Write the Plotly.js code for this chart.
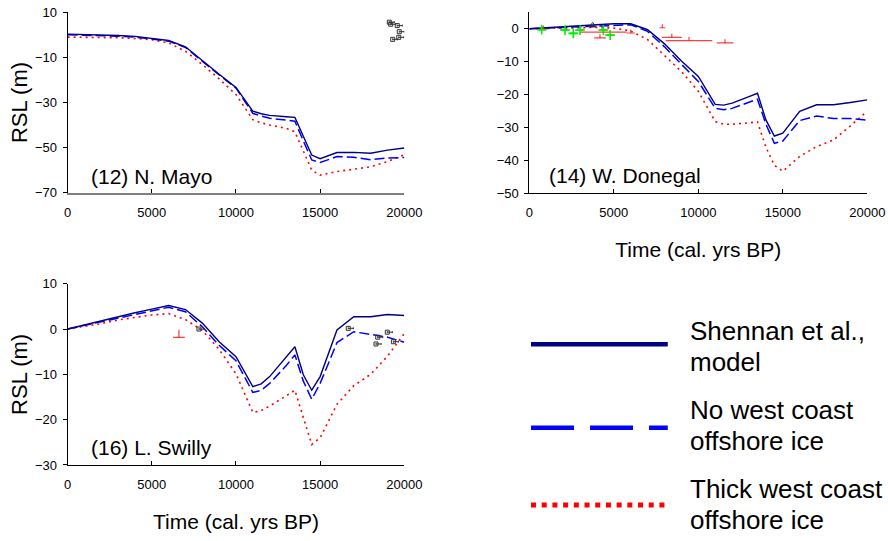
<!DOCTYPE html>
<html><head><meta charset="utf-8">
<script src="https://cdn.plot.ly/plotly-3.0.1.min.js"></script>
<style>html,body{margin:0;padding:0;background:#fff}#chart{width:888px;height:541px}</style>
</head><body><div id="chart"></div>
<script>
// Time nodes (cal. yrs BP)
const T = [0,1000,2000,3000,4000,5000,6000,7000,8000,9000,10000,11000,11500,12000,13000,13500,14000,14500,15000,16000,17000,18000,19000,20000];

// (12) N. Mayo
const mayoModel = [0.3,0.2,0,-0.3,-0.7,-1.5,-2.5,-5.3,-11.5,-17.5,-23.3,-33.8,-35,-35.7,-36.3,-36.6,-45,-53.3,-54.9,-52.2,-52.1,-52.5,-51.1,-50.2];
const mayoNoIce = [0,-0.1,-0.3,-0.6,-1.0,-1.8,-2.8,-5.6,-11.8,-17.8,-23.6,-34.8,-36,-37,-37.8,-38.3,-47,-55.5,-56.6,-54,-54.3,-55.4,-54.6,-54.4];
const mayoThick = [-1,-1,-1.1,-1.3,-1.6,-2.2,-3.6,-7.3,-13.2,-19.5,-26.5,-37.6,-39,-40,-41.5,-43,-51.5,-60,-62.2,-60.6,-59.6,-58.5,-56.2,-53.2];
const mayoObsX = [19110,19190,19580,19700,19670,19310];
const mayoObsY = [5.6,4.7,4.1,1.4,-1.1,-2.0];

// (14) W. Donegal
const donModel = [0,0.3,0.6,0.9,1.2,1.5,1.5,-0.3,-4.6,-9.8,-14.5,-23,-23.2,-22.6,-20.6,-19.6,-27.7,-32.6,-31.7,-25.1,-23.1,-23.1,-22.4,-21.6];
const donNoIce = [0,0.2,0.5,0.8,1.0,1.2,1.2,-0.8,-5.5,-10.8,-16,-24.2,-24.6,-24.2,-22.2,-21.4,-29,-34.8,-34.1,-27.9,-26.5,-27.3,-27.3,-27.8];
const donThick = [0,0.1,0.2,0.3,0.4,0.2,-0.7,-3.3,-8.2,-13,-19,-28.2,-29,-29,-28.6,-28.3,-36,-41.5,-43.3,-38.8,-35.8,-33.8,-29.5,-25];
const donRedX = [830,4180,4380,6000,7870,8430,9450,11580];
const donRedY = [-0.1,-2.8,-1.0,-1.3,0.3,-2.6,-3.6,-4.3];
const donRedErrX = [200,350,1380,250,170,590,1380,490];
const donGreenX = [730,2110,2600,3000,4380,4780];
const donGreenY = [-0.3,-0.4,-1.4,-0.4,-0.4,-1.9];
const donTriX = [3750];
const donTriY = [1.0];

// (16) L. Swilly
const swiModel = [0,0.9,1.8,2.8,3.6,4.4,5.2,4.3,1.3,-2.8,-6.1,-12.7,-12.1,-10.5,-6.2,-3.9,-10.1,-13.5,-10.5,-0.2,2.7,2.7,3.2,3.0];
const swiNoIce = [0,0.8,1.6,2.5,3.3,4.1,4.8,3.8,0.5,-3.6,-7,-14,-13.5,-12,-8,-5.7,-11.5,-15.5,-12,-3,-0.6,-1.2,-1.8,-2.9];
const swiThick = [0,0.6,1.2,2.0,2.6,3.1,3.4,2.1,-0.3,-4.5,-9.9,-18.4,-18,-17,-14.7,-13.5,-19.5,-25.5,-24,-16.6,-12.5,-10,-6,-1];
const swiRedX = [6610];
const swiRedY = [-1.84];
const swiObsX = [7800,16670,18420,18320,18990,19350];
const swiObsY = [0,0.15,-1.8,-3.3,-0.7,-2.8];

const xTicks = [0,5000,10000,15000,20000];
const legendLabels = [["Shennan et al.,","model"],["No west coast","offshore ice"],["Thick west coast","offshore ice"]];
const panelLabels = ["(12) N. Mayo","(14) W. Donegal","(16) L. Swilly"];

const FONT = "Liberation Sans, Arial, sans-serif";
const NAVY = "#000080", BLUE = "#0000ff", RED = "#ff0000";

function modelTraces(xa, ya, m, n, t) {
  return [
    {x:T, y:t, xaxis:xa, yaxis:ya, mode:"lines", line:{color:RED, width:1.6, dash:"2px,4px"}, showlegend:false, hoverinfo:"skip"},
    {x:T, y:n, xaxis:xa, yaxis:ya, mode:"lines", line:{color:BLUE, width:1.5, dash:"10px,4px"}, showlegend:false, hoverinfo:"skip"},
    {x:T, y:m, xaxis:xa, yaxis:ya, mode:"lines", line:{color:NAVY, width:1.4}, showlegend:false, hoverinfo:"skip"}
  ];
}
function squareObs(xa, ya, xs, ys) {
  return {x:xs, y:ys, xaxis:xa, yaxis:ya, mode:"markers", showlegend:false,
    marker:{symbol:"square-open", size:4, color:"#333", line:{width:1,color:"#333"}},
    error_x:{type:"constant", symmetric:false, value:300, valueminus:0, color:"#333", thickness:1, width:1}};
}

const data = [
  ...modelTraces("x","y",mayoModel,mayoNoIce,mayoThick),
  squareObs("x","y",mayoObsX,mayoObsY),
  ...modelTraces("x2","y2",donModel,donNoIce,donThick),
  {x:donRedX, y:donRedY, xaxis:"x2", yaxis:"y2", mode:"markers", showlegend:false,
    marker:{size:1, color:"rgba(255,40,40,0.9)"},
    error_x:{type:"data", array:donRedErrX, color:"rgba(255,40,40,0.9)", thickness:1.2, width:0},
    error_y:{type:"constant", symmetric:false, value:1.1, valueminus:0, color:"rgba(255,40,40,0.9)", thickness:1.2, width:0}},
  {x:donGreenX, y:donGreenY, xaxis:"x2", yaxis:"y2", mode:"markers", showlegend:false,
    marker:{symbol:"cross-thin", size:7, color:"#00ee00", line:{width:1.6, color:"#00ee00"}},
    error_x:{type:"constant", value:220, color:"#00ee00", thickness:1.6, width:0}},
  {x:donTriX, y:donTriY, xaxis:"x2", yaxis:"y2", mode:"markers", showlegend:false,
    marker:{symbol:"triangle-up-open", size:6, color:"#333", line:{width:1, color:"#333"}}},
  ...modelTraces("x3","y3",swiModel,swiNoIce,swiThick),
  {x:swiRedX, y:swiRedY, xaxis:"x3", yaxis:"y3", mode:"markers", showlegend:false,
    marker:{size:1, color:"rgba(255,40,40,0.9)"},
    error_x:{type:"constant", value:350, color:"rgba(255,40,40,0.9)", thickness:1.2, width:0},
    error_y:{type:"constant", symmetric:false, value:1.7, valueminus:0, color:"rgba(255,40,40,0.9)", thickness:1.2, width:0}},
  squareObs("x3","y3",swiObsX,swiObsY)
];

function xax(domain, anchor, title, lc, lw) {
  const a = {domain:domain, anchor:anchor, range:[0,20000], tickvals:xTicks, ticktext:xTicks.map(String),
    ticks:"inside", ticklen:4, tickcolor:"#000", showline:true, linecolor:lc, linewidth:lw, showgrid:false, zeroline:false,
    ticklabelstandoff:7, tickfont:{family:FONT, size:13, color:"#000"}};
  if (title) a.title = {text:title, font:{family:FONT, size:21, color:"#000"}, standoff:23};
  return a;
}
function yax(domain, anchor, range, tick0, dtick, title) {
  const a = {domain:domain, anchor:anchor, range:range, tick0:tick0, dtick:dtick,
    ticks:"outside", ticklen:4, tickcolor:"#000", showline:true, linecolor:"#000", linewidth:1, showgrid:false, zeroline:false,
    ticklabelstandoff:3, tickfont:{family:FONT, size:13, color:"#000"}};
  if (title) a.title = {text:title, font:{family:FONT, size:22, color:"#000"}, standoff:1};
  return a;
}

const layout = {
  width:888, height:541, margin:{l:0,r:0,t:0,b:0}, paper_bgcolor:"#fff", plot_bgcolor:"rgba(0,0,0,0)",
  showlegend:false, font:{family:FONT, color:"#000"},
  xaxis: xax([0.0762,0.4553],"y",null,"#808080",2),
  yaxis: yax([0.6438,0.9773],"x",[-70,10],10,20,"RSL (m)"),
  xaxis2: xax([0.5961,0.9767],"y2","Time (cal. yrs BP)","#000",1),
  yaxis2: yax([0.6427,0.9773],"x2",[-50,5],0,10,null),
  xaxis3: xax([0.0762,0.4553],"y3","Time (cal. yrs BP)","#000",1),
  yaxis3: yax([0.1405,0.4756],"x3",[-30,10],10,10,"RSL (m)")
};

const legY = [0.3636, 0.2094, 0.0665];
layout.shapes = [
  {type:"line", xref:"paper", yref:"paper", x0:0.598, x1:0.752, y0:legY[0], y1:legY[0], line:{color:NAVY, width:4.5}},
  {type:"line", xref:"paper", yref:"paper", x0:0.598, x1:0.752, y0:legY[1], y1:legY[1], line:{color:BLUE, width:4.5, dash:"43px,16px"}},
  {type:"line", xref:"paper", yref:"paper", x0:0.598, x1:0.752, y0:legY[2], y1:legY[2], line:{color:RED, width:5, dash:"5px,5.7px"}}
];
const lineCenters = [331,362,410,441,489,520];
layout.annotations = [];
legendLabels.flat().forEach((t,i) => {
  layout.annotations.push({text:t, xref:"paper", yref:"paper", x:688/888, y:1-lineCenters[i]/541, xanchor:"left", yanchor:"middle",
    showarrow:false, font:{family:FONT, size:26, color:"#000"}});
});
const panelPos = [[89,177],[546.7,175],[89,447]];
panelLabels.forEach((t,i) => {
  layout.annotations.push({text:t, xref:"paper", yref:"paper", x:panelPos[i][0]/888, y:1-panelPos[i][1]/541, xanchor:"left", yanchor:"middle",
    showarrow:false, font:{family:FONT, size:21, color:"#000"}});
});

Plotly.newPlot("chart", data, layout, {staticPlot:true, displayModeBar:false});
</script></body></html>
